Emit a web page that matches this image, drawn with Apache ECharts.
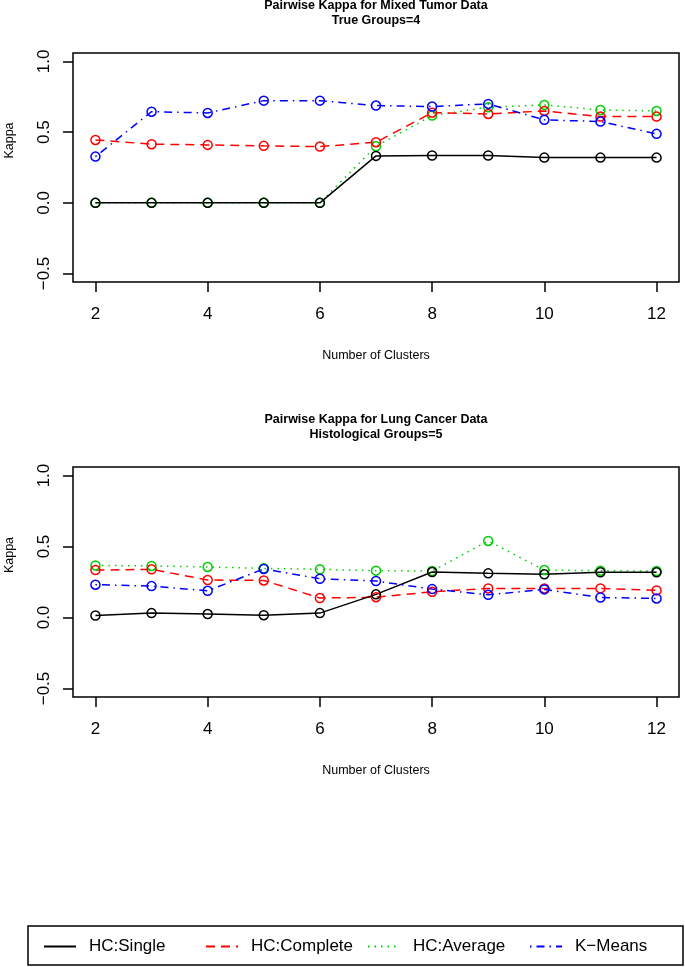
<!DOCTYPE html>
<html>
<head>
<meta charset="utf-8">
<script src="https://cdn.jsdelivr.net/npm/echarts@6/dist/echarts.min.js"></script>
<style>
html,body{margin:0;padding:0;background:#fff;}
#chart{width:685px;height:967px;}
</style>
</head>
<body>
<div id="chart"></div>
<script>
// ---- data ----
const clusters = [2, 3, 4, 5, 6, 7, 8, 9, 10, 11, 12];
const xTicks = [2, 4, 6, 8, 10, 12];
const yTicks = [-0.5, 0, 0.5, 1.0];
const seriesNames = ['HC:Single', 'HC:Complete', 'HC:Average', 'K\u2212Means'];
const titleTop = 'Pairwise Kappa for Mixed Tumor Data\nTrue Groups=4';
const titleBottom = 'Pairwise Kappa for Lung Cancer Data\nHistological Groups=5';
const xAxisTitle = 'Number of Clusters';
const yAxisTitle = 'Kappa';

// Mixed tumor data
const tSingle   = [0, 0, 0, 0, 0, 0.332, 0.335, 0.335, 0.32, 0.32, 0.32];
const tComplete = [0.445, 0.415, 0.41, 0.403, 0.398, 0.429, 0.638, 0.629, 0.65, 0.61, 0.61];
const tAverage  = [0, 0, 0, 0, 0, 0.40, 0.617, 0.676, 0.693, 0.657, 0.65];
const tKmeans   = [0.327, 0.645, 0.636, 0.723, 0.723, 0.688, 0.681, 0.70, 0.587, 0.575, 0.488];

// Lung cancer data
const bSingle   = [0.014, 0.031, 0.024, 0.016, 0.031, 0.163, 0.32, 0.311, 0.304, 0.318, 0.318];
const bComplete = [0.334, 0.339, 0.264, 0.261, 0.137, 0.143, 0.181, 0.205, 0.205, 0.205, 0.191];
const bAverage  = [0.367, 0.363, 0.356, 0.346, 0.339, 0.33, 0.327, 0.539, 0.334, 0.33, 0.327];
const bKmeans   = [0.231, 0.221, 0.188, 0.342, 0.273, 0.257, 0.2, 0.16, 0.198, 0.141, 0.134];

// ---- styling ----
const FONT = "'Liberation Sans', Arial, Helvetica, sans-serif";
const colors = { 'HC:Single': '#000000', 'HC:Complete': '#FF0000', 'HC:Average': '#00CD00', 'K\u2212Means': '#0000FF' };
const dashes = { 'HC:Single': 'solid', 'HC:Complete': [9, 6], 'HC:Average': [1.5, 5], 'K\u2212Means': [1.5, 5, 8, 5] };
const legendLefts = [43, 205, 367, 529];

function pairs(ys) { return clusters.map((c, i) => [c, ys[i]]); }
function fmtY(v) { return v.toFixed(1).replace('-', '\u2212'); }

function mkSeries(name, ys, idx) {
  return {
    type: 'line', name: name, xAxisIndex: idx, yAxisIndex: idx,
    data: pairs(ys),
    symbol: 'circle', symbolSize: 9,
    itemStyle: { color: 'rgba(0,0,0,0)', borderColor: colors[name], borderWidth: 1.5 },
    lineStyle: { color: colors[name], width: 1.5, type: dashes[name] },
    emphasis: { disabled: true },
    silent: true
  };
}

const grids = [
  { left: 73, top: 53, width: 606, height: 229, show: true, borderColor: '#000', borderWidth: 1.5,
    backgroundColor: 'transparent', containLabel: false, outerBoundsMode: 'none' },
  { left: 73, top: 467, width: 606, height: 230, show: true, borderColor: '#000', borderWidth: 1.5,
    backgroundColor: 'transparent', containLabel: false, outerBoundsMode: 'none' }
];

function mkX(idx) {
  return {
    type: 'value', gridIndex: idx, min: 1.6, max: 12.4, position: 'bottom',
    axisLine: { show: false, onZero: false },
    splitLine: { show: false },
    axisTick: { show: true, inside: false, length: 10, lineStyle: { color: '#000', width: 1.5 }, customValues: xTicks },
    axisLabel: { show: true, margin: 24, fontSize: 17, color: '#000', fontFamily: FONT, customValues: xTicks, formatter: v => String(v) },
    name: xAxisTitle, nameLocation: 'middle', nameGap: 67,
    nameTextStyle: { fontSize: 12.5, color: '#000', fontFamily: FONT }
  };
}
function mkY(idx) {
  return {
    type: 'value', gridIndex: idx, min: -0.56, max: 1.06, position: 'left',
    axisLine: { show: false, onZero: false },
    splitLine: { show: false },
    axisTick: { show: true, inside: false, length: 10, lineStyle: { color: '#000', width: 1.5 }, customValues: yTicks },
    axisLabel: { show: true, rotate: 90, margin: 20, fontSize: 17, color: '#000', fontFamily: FONT, customValues: yTicks, formatter: v => fmtY(v) },
    name: yAxisTitle, nameLocation: 'middle', nameGap: 57,
    nameTextStyle: { fontSize: 12.5, color: '#000', fontFamily: FONT, padding: [0, 0, 0, 54] }
  };
}

const tData = { 'HC:Single': tSingle, 'HC:Complete': tComplete, 'HC:Average': tAverage, 'K\u2212Means': tKmeans };
const bData = { 'HC:Single': bSingle, 'HC:Complete': bComplete, 'HC:Average': bAverage, 'K\u2212Means': bKmeans };
const drawOrder = ['HC:Average', 'HC:Complete', 'HC:Single', 'K\u2212Means'];
const series = [];
drawOrder.forEach(n => series.push(mkSeries(n, tData[n], 0)));
drawOrder.forEach(n => series.push(mkSeries(n, bData[n], 1)));

const legends = seriesNames.map((n, i) => ({
  data: [n],
  orient: 'horizontal',
  left: legendLefts[i], top: 938,
  padding: 0,
  itemWidth: 32, itemHeight: 14,
  selectedMode: false,
  itemStyle: { opacity: 0, borderWidth: 0 },
  textStyle: { fontSize: 17, color: '#000', fontFamily: FONT, padding: [0, 0, 0, 8] }
}));

const option = {
  animation: false,
  backgroundColor: '#fff',
  textStyle: { fontFamily: FONT },
  title: [
    { text: titleTop, left: 376, top: -2, textAlign: 'center', padding: 0,
      textStyle: { fontSize: 12.5, fontWeight: 'bold', lineHeight: 15, color: '#000', fontFamily: FONT } },
    { text: titleBottom, left: 376, top: 412, textAlign: 'center', padding: 0,
      textStyle: { fontSize: 12.5, fontWeight: 'bold', lineHeight: 15, color: '#000', fontFamily: FONT } }
  ],
  legend: legends,
  graphic: [{
    type: 'rect', silent: true,
    shape: { x: 28, y: 926, width: 655, height: 39 },
    style: { fill: 'none', stroke: '#000', lineWidth: 1.5 }
  }],
  grid: grids,
  xAxis: [mkX(0), mkX(1)],
  yAxis: [mkY(0), mkY(1)],
  series: series
};

const chart = echarts.init(document.getElementById('chart'), null, { renderer: 'canvas' });
chart.setOption(option);
</script>
</body>
</html>
